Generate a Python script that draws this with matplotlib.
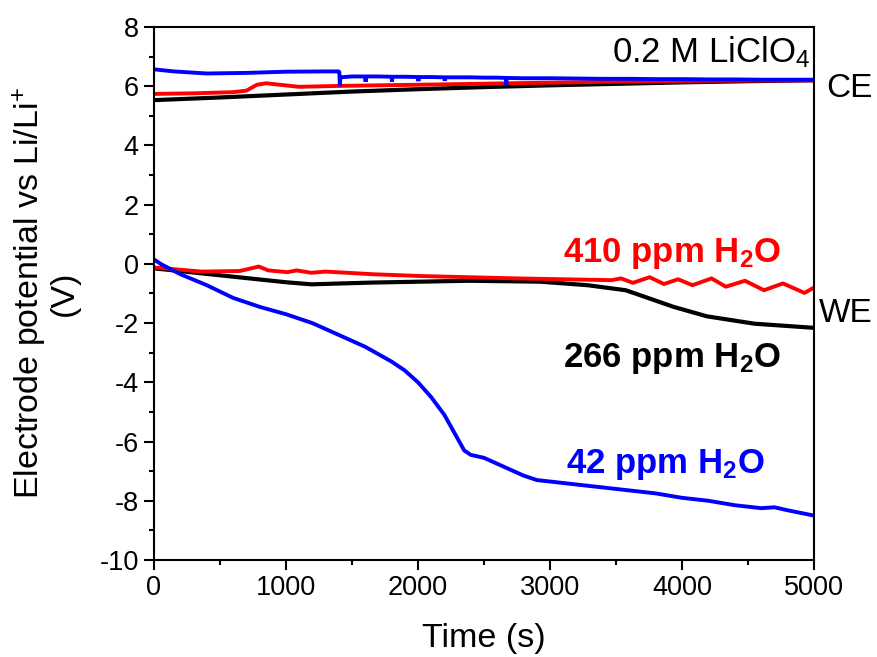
import matplotlib
matplotlib.use("Agg")
import matplotlib.pyplot as plt
from matplotlib.ticker import MultipleLocator

plt.rcParams['font.family'] = ['Liberation Sans', 'DejaVu Sans']
plt.rcParams['mathtext.default'] = 'regular'
plt.rcParams['axes.unicode_minus'] = False

# counter electrode (CE) potentials
t_ce_black = [0, 500, 1000, 1500, 2000, 2500, 3000, 3500, 4000, 4500, 5000]
v_ce_black = [5.53, 5.62, 5.72, 5.82, 5.90, 5.97, 6.03, 6.08, 6.13, 6.17, 6.20]

t_ce_red = [0, 300, 600, 700, 780, 850, 950, 1100, 1400, 1700, 2000, 2300,
            2700, 3000, 3300, 3600, 4000, 5000]
v_ce_red = [5.74, 5.76, 5.80, 5.85, 6.05, 6.10, 6.05, 5.98, 6.01, 6.03, 6.05,
            6.07, 6.10, 6.12, 6.14, 6.16, 6.18, 6.20]

t_ce_blue = [0, 150, 400, 700, 1000, 1300, 1400, 1404, 1408, 1412, 1500, 1600,
             1603, 1606, 1700, 1800, 1803, 1806, 1900, 2000, 2003, 2006, 2100,
             2200, 2203, 2206, 2300, 2400, 2500, 2600, 2666, 2669, 2672, 2800,
             3000, 3200, 3400, 3600, 3800, 4000, 4200, 4400, 4600, 4800, 5000]
v_ce_blue = [6.57, 6.50, 6.43, 6.45, 6.49, 6.50, 6.50, 6.48, 6.00, 6.30, 6.33,
             6.33, 6.15, 6.33, 6.33, 6.32, 6.16, 6.32, 6.32, 6.31, 6.17, 6.31,
             6.31, 6.30, 6.18, 6.30, 6.30, 6.30, 6.29, 6.29, 6.28, 6.02, 6.28,
             6.27, 6.27, 6.26, 6.25, 6.25, 6.24, 6.24, 6.23, 6.23, 6.22, 6.22,
             6.22]

# working electrode (WE) potentials
t_we_black = [0, 361, 722, 1000, 1191, 1661, 2383, 2924, 3285, 3574, 3755,
              3935, 4188, 4549, 5000]
v_we_black = [-0.15, -0.32, -0.49, -0.62, -0.69, -0.63, -0.57, -0.60, -0.72,
              -0.89, -1.17, -1.45, -1.77, -2.02, -2.16]

t_we_red = [0, 361, 650, 794, 866, 1011, 1080, 1191, 1300, 1661, 2022, 2383,
            2744, 3105, 3466, 3538, 3628, 3755, 3863, 3971, 4079, 4224, 4332,
            4477, 4621, 4765, 4928, 5000]
v_we_red = [-0.12, -0.26, -0.24, -0.09, -0.22, -0.28, -0.22, -0.30, -0.26,
            -0.35, -0.41, -0.45, -0.49, -0.52, -0.55, -0.49, -0.64, -0.45,
            -0.68, -0.52, -0.72, -0.49, -0.77, -0.57, -0.89, -0.66, -0.98,
            -0.80]

t_we_blue = [0, 50, 200, 400, 600, 800, 1000, 1200, 1400, 1600, 1800, 1900,
             2000, 2100, 2200, 2300, 2350, 2400, 2500, 2600, 2700, 2800, 2900,
             3000, 3200, 3400, 3600, 3800, 4000, 4200, 4400, 4600, 4700, 4800,
             5000]
v_we_blue = [0.15, 0.00, -0.35, -0.72, -1.15, -1.45, -1.70, -2.00, -2.40,
             -2.80, -3.30, -3.60, -4.00, -4.50, -5.10, -5.90, -6.30, -6.45,
             -6.55, -6.75, -6.95, -7.15, -7.30, -7.35, -7.45, -7.55, -7.65,
             -7.75, -7.90, -8.00, -8.15, -8.25, -8.22, -8.32, -8.50]

fig = plt.figure(figsize=(8.78, 6.57), dpi=100)
ax = fig.add_axes([154 / 878, 1 - 560 / 657, 660 / 878, 533 / 657])

ax.plot(t_ce_black, v_ce_black, color='black', lw=3)
ax.plot(t_ce_red, v_ce_red, color='#ff0000', lw=2.8)
ax.plot(t_ce_blue, v_ce_blue, color='#0000ff', lw=2.8, solid_joinstyle='bevel')
ax.plot(t_we_black, v_we_black, color='black', lw=3)
ax.plot(t_we_red, v_we_red, color='#ff0000', lw=2.8)
ax.plot(t_we_blue, v_we_blue, color='#0000ff', lw=2.8)

ax.set_xlim(0, 5000)
ax.set_ylim(-10, 8)
ax.xaxis.set_major_locator(MultipleLocator(1000))
ax.xaxis.set_minor_locator(MultipleLocator(500))
ax.yaxis.set_major_locator(MultipleLocator(2))
ax.yaxis.set_minor_locator(MultipleLocator(1))
ax.tick_params(which='both', direction='out', width=1.5, labelsize=19.5,
               top=False, right=False)
ax.tick_params(which='major', length=7, pad=4)
ax.tick_params(which='minor', length=3.5)
for s in ax.spines.values():
    s.set_linewidth(1.5)

ax.set_xlabel('Time (s)', fontsize=24.5, labelpad=16)
ax.set_ylabel('Electrode potential vs Li/Li$^{+}$\n(V)', fontsize=24.5,
              linespacing=1.0, labelpad=14)

ax.text(4975, 6.82, '0.2 M LiClO$_{4}$', fontsize=25, ha='right', va='baseline')
ax.text(5090, 5.64, 'CE', fontsize=24, ha='left', va='baseline', clip_on=False)
ax.text(5035, -1.96, 'WE', fontsize=24, ha='left', va='baseline', clip_on=False)

ax.text(3924, 0.06, '410 ppm H$_{2}$O', fontsize=25, fontweight='bold',
        color='#ff0000', ha='center', va='baseline')
ax.text(3924, -3.48, '266 ppm H$_{2}$O', fontsize=25, fontweight='bold',
        color='black', ha='center', va='baseline')
ax.text(3871, -7.06, '42 ppm H$_{2}$O', fontsize=25, fontweight='bold',
        color='#0000ff', ha='center', va='baseline')

fig.savefig('out.png', dpi=100)
